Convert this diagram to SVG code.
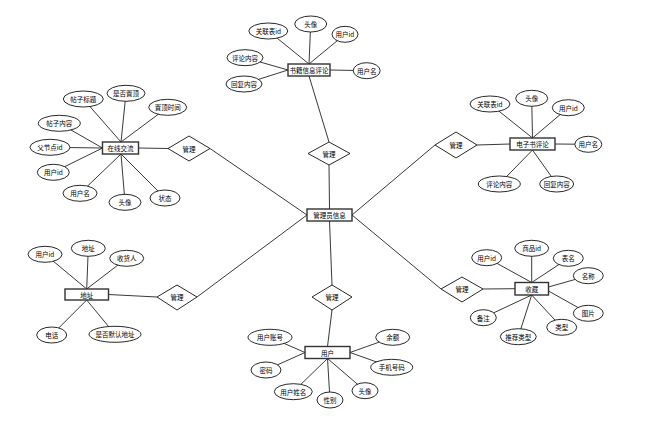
<svg xmlns="http://www.w3.org/2000/svg" width="667" height="425" viewBox="0 0 667 425">
<style>
.bg{fill:#fff}
.ln{stroke:#222;stroke-width:0.9;fill:none}
.el{fill:#fff;stroke:#111;stroke-width:0.9}
.en{fill:#fff;stroke:#333;stroke-width:1.4}
.dm{fill:#fff;stroke:#111;stroke-width:0.9}
text{font-family:"Noto Sans CJK SC","Noto Sans",sans-serif;font-size:6.5px;fill:#000;text-anchor:middle;dominant-baseline:central}
</style>
<rect class="bg" x="0" y="0" width="667" height="425"/>
<g id="connectors">
<line class="ln" x1="329.5" y1="209" x2="329" y2="165"/>
<line class="ln" x1="307" y1="215" x2="210" y2="148.5"/>
<line class="ln" x1="307" y1="215" x2="197" y2="297"/>
<line class="ln" x1="329.5" y1="221" x2="332" y2="285"/>
<line class="ln" x1="352" y1="215" x2="435" y2="145"/>
<line class="ln" x1="352" y1="215" x2="441" y2="289"/>
<line class="ln" x1="329" y1="142" x2="309" y2="76"/>
<line class="ln" x1="168" y1="148.5" x2="138.5" y2="148"/>
<line class="ln" x1="157" y1="297" x2="108.5" y2="294.5"/>
<line class="ln" x1="332" y1="310" x2="327.5" y2="346.5"/>
<line class="ln" x1="477" y1="145" x2="510" y2="144"/>
<line class="ln" x1="483" y1="289" x2="515" y2="288.7"/>
<line class="ln" x1="309" y1="64" x2="268.3" y2="31"/>
<line class="ln" x1="309" y1="64" x2="310.7" y2="24"/>
<line class="ln" x1="309" y1="64" x2="345" y2="34.3"/>
<line class="ln" x1="288" y1="70" x2="245" y2="57.7"/>
<line class="ln" x1="288" y1="70" x2="244" y2="84"/>
<line class="ln" x1="330" y1="70" x2="366.7" y2="70.7"/>
<line class="ln" x1="121" y1="142" x2="83.3" y2="99"/>
<line class="ln" x1="121" y1="142" x2="126" y2="93.3"/>
<line class="ln" x1="121" y1="142" x2="167.7" y2="107.3"/>
<line class="ln" x1="102.5" y1="148" x2="59.3" y2="123.3"/>
<line class="ln" x1="102.5" y1="148" x2="50" y2="147.3"/>
<line class="ln" x1="102.5" y1="148" x2="53.3" y2="172.3"/>
<line class="ln" x1="121" y1="154" x2="80" y2="193.3"/>
<line class="ln" x1="121" y1="154" x2="125" y2="202.3"/>
<line class="ln" x1="121" y1="154" x2="165" y2="198"/>
<line class="ln" x1="532.5" y1="138" x2="490" y2="104"/>
<line class="ln" x1="532.5" y1="138" x2="531.7" y2="98.3"/>
<line class="ln" x1="532.5" y1="138" x2="568.3" y2="107.7"/>
<line class="ln" x1="555" y1="144" x2="588.3" y2="144.3"/>
<line class="ln" x1="532.5" y1="150" x2="499.3" y2="184"/>
<line class="ln" x1="532.5" y1="150" x2="556.7" y2="184"/>
<line class="ln" x1="86.7" y1="289" x2="45" y2="254.3"/>
<line class="ln" x1="86.7" y1="289" x2="88.3" y2="248.3"/>
<line class="ln" x1="86.7" y1="289" x2="126.7" y2="258.3"/>
<line class="ln" x1="86.7" y1="300" x2="51.7" y2="335"/>
<line class="ln" x1="86.7" y1="300" x2="115" y2="334.3"/>
<line class="ln" x1="531.7" y1="282.5" x2="486.7" y2="257.7"/>
<line class="ln" x1="531.7" y1="282.5" x2="531.7" y2="248.3"/>
<line class="ln" x1="531.7" y1="282.5" x2="568.3" y2="258.3"/>
<line class="ln" x1="548.5" y1="287" x2="588.3" y2="275.7"/>
<line class="ln" x1="548.5" y1="291" x2="588.3" y2="313.3"/>
<line class="ln" x1="531.7" y1="295" x2="561.7" y2="327.3"/>
<line class="ln" x1="531.7" y1="295" x2="518.3" y2="336.7"/>
<line class="ln" x1="531.7" y1="295" x2="483.3" y2="317.7"/>
<line class="ln" x1="305" y1="352.5" x2="270" y2="337.3"/>
<line class="ln" x1="305" y1="352.5" x2="266" y2="370"/>
<line class="ln" x1="327.5" y1="358.5" x2="293.3" y2="391.7"/>
<line class="ln" x1="327.5" y1="358.5" x2="330" y2="400"/>
<line class="ln" x1="327.5" y1="358.5" x2="365" y2="390.7"/>
<line class="ln" x1="350" y1="352.5" x2="391.7" y2="367.3"/>
<line class="ln" x1="350" y1="352.5" x2="392.7" y2="337.3"/>
</g>

<g id="rel-top"><polygon class="dm" points="329,142 350,153.5 329,165 308,153.5"/><text x="329" y="153.5">管理</text></g>
<g id="rel-left-top"><polygon class="dm" points="189,136 210,148.5 189,161 168,148.5"/><text x="189" y="148.5">管理</text></g>
<g id="rel-left-bottom"><polygon class="dm" points="177,285 197,297 177,310 157,297"/><text x="177" y="297">管理</text></g>
<g id="rel-bottom"><polygon class="dm" points="332,285 352,297 332,310 312,297"/><text x="332" y="297">管理</text></g>
<g id="rel-right-top"><polygon class="dm" points="456,132 477,145 456,158 435,145"/><text x="456" y="145">管理</text></g>
<g id="rel-right-bottom"><polygon class="dm" points="462,277 483,289 462,302 441,289"/><text x="462" y="289">管理</text></g>

<g id="admin"><rect class="en" x="307" y="209" width="45" height="12"/><text x="329.5" y="215">管理员信息</text></g>

<g id="book-comment"><rect class="en" x="288" y="64" width="42" height="12"/><text x="309" y="70">书籍信息评论</text></g>
<g id="bc-a1"><ellipse class="el" cx="268.3" cy="31" rx="19.5" ry="8"/><text x="268.3" y="31">关联表id</text></g>
<g id="bc-a2"><ellipse class="el" cx="310.7" cy="24" rx="16" ry="8"/><text x="310.7" y="24">头像</text></g>
<g id="bc-a3"><ellipse class="el" cx="345" cy="34.3" rx="13" ry="8"/><text x="345" y="34.3">用户id</text></g>
<g id="bc-a4"><ellipse class="el" cx="245" cy="57.7" rx="18" ry="8"/><text x="245" y="57.7">评论内容</text></g>
<g id="bc-a5"><ellipse class="el" cx="244" cy="84" rx="18" ry="8"/><text x="244" y="84">回复内容</text></g>
<g id="bc-a6"><ellipse class="el" cx="366.7" cy="70.7" rx="13.5" ry="8"/><text x="366.7" y="70.7">用户名</text></g>

<g id="forum"><rect class="en" x="102.5" y="142" width="36" height="12"/><text x="120.5" y="148">在线交流</text></g>
<g id="f-a1"><ellipse class="el" cx="83.3" cy="99" rx="20" ry="8"/><text x="83.3" y="99">帖子标题</text></g>
<g id="f-a2"><ellipse class="el" cx="126" cy="93.3" rx="19" ry="8"/><text x="126" y="93.3">是否置顶</text></g>
<g id="f-a3"><ellipse class="el" cx="167.7" cy="107.3" rx="19" ry="8"/><text x="167.7" y="107.3">置顶时间</text></g>
<g id="f-a4"><ellipse class="el" cx="59.3" cy="123.3" rx="21" ry="8"/><text x="59.3" y="123.3">帖子内容</text></g>
<g id="f-a5"><ellipse class="el" cx="50" cy="147.3" rx="20" ry="8"/><text x="50" y="147.3">父节点id</text></g>
<g id="f-a6"><ellipse class="el" cx="53.3" cy="172.3" rx="16" ry="8"/><text x="53.3" y="172.3">用户id</text></g>
<g id="f-a7"><ellipse class="el" cx="80" cy="193.3" rx="17" ry="8"/><text x="80" y="193.3">用户名</text></g>
<g id="f-a8"><ellipse class="el" cx="125" cy="202.3" rx="16" ry="8"/><text x="125" y="202.3">头像</text></g>
<g id="f-a9"><ellipse class="el" cx="165" cy="198" rx="15" ry="8"/><text x="165" y="198">状态</text></g>

<g id="ebook-comment"><rect class="en" x="510" y="138" width="45" height="12"/><text x="532.5" y="144">电子书评论</text></g>
<g id="ec-a1"><ellipse class="el" cx="490" cy="104" rx="20" ry="8"/><text x="490" y="104">关联表id</text></g>
<g id="ec-a2"><ellipse class="el" cx="531.7" cy="98.3" rx="16" ry="8"/><text x="531.7" y="98.3">头像</text></g>
<g id="ec-a3"><ellipse class="el" cx="568.3" cy="107.7" rx="16" ry="8"/><text x="568.3" y="107.7">用户id</text></g>
<g id="ec-a4"><ellipse class="el" cx="588.3" cy="144.3" rx="13.5" ry="8"/><text x="588.3" y="144.3">用户名</text></g>
<g id="ec-a5"><ellipse class="el" cx="499.3" cy="184" rx="21" ry="8"/><text x="499.3" y="184">评论内容</text></g>
<g id="ec-a6"><ellipse class="el" cx="556.7" cy="184" rx="17" ry="8"/><text x="556.7" y="184">回复内容</text></g>

<g id="address"><rect class="en" x="65" y="289" width="43.5" height="11"/><text x="86.7" y="294.5">地址</text></g>
<g id="ad-a1"><ellipse class="el" cx="45" cy="254.3" rx="17" ry="8"/><text x="45" y="254.3">用户id</text></g>
<g id="ad-a2"><ellipse class="el" cx="88.3" cy="248.3" rx="17" ry="8"/><text x="88.3" y="248.3">地址</text></g>
<g id="ad-a3"><ellipse class="el" cx="126.7" cy="258.3" rx="17" ry="8"/><text x="126.7" y="258.3">收货人</text></g>
<g id="ad-a4"><ellipse class="el" cx="51.7" cy="335" rx="15" ry="8"/><text x="51.7" y="335">电话</text></g>
<g id="ad-a5"><ellipse class="el" cx="115" cy="334.3" rx="26" ry="8"/><text x="115" y="334.3">是否默认地址</text></g>

<g id="favorite"><rect class="en" x="515" y="282.5" width="33.5" height="12.5"/><text x="531.7" y="288.7">收藏</text></g>
<g id="fv-a1"><ellipse class="el" cx="486.7" cy="257.7" rx="15" ry="8"/><text x="486.7" y="257.7">用户id</text></g>
<g id="fv-a2"><ellipse class="el" cx="531.7" cy="248.3" rx="17" ry="8"/><text x="531.7" y="248.3">商品id</text></g>
<g id="fv-a3"><ellipse class="el" cx="568.3" cy="258.3" rx="15" ry="8"/><text x="568.3" y="258.3">表名</text></g>
<g id="fv-a4"><ellipse class="el" cx="588.3" cy="275.7" rx="15" ry="8"/><text x="588.3" y="275.7">名称</text></g>
<g id="fv-a5"><ellipse class="el" cx="588.3" cy="313.3" rx="15" ry="8"/><text x="588.3" y="313.3">图片</text></g>
<g id="fv-a6"><ellipse class="el" cx="561.7" cy="327.3" rx="15" ry="8"/><text x="561.7" y="327.3">类型</text></g>
<g id="fv-a7"><ellipse class="el" cx="518.3" cy="336.7" rx="18" ry="8"/><text x="518.3" y="336.7">推荐类型</text></g>
<g id="fv-a8"><ellipse class="el" cx="483.3" cy="317.7" rx="13" ry="8"/><text x="483.3" y="317.7">备注</text></g>

<g id="user"><rect class="en" x="305" y="346.5" width="45" height="12"/><text x="327.5" y="352.5">用户</text></g>
<g id="u-a1"><ellipse class="el" cx="270" cy="337.3" rx="22" ry="8"/><text x="270" y="337.3">用户账号</text></g>
<g id="u-a2"><ellipse class="el" cx="266" cy="370" rx="15" ry="8"/><text x="266" y="370">密码</text></g>
<g id="u-a3"><ellipse class="el" cx="293.3" cy="391.7" rx="19" ry="8"/><text x="293.3" y="391.7">用户姓名</text></g>
<g id="u-a4"><ellipse class="el" cx="330" cy="400" rx="13" ry="8"/><text x="330" y="400">性别</text></g>
<g id="u-a5"><ellipse class="el" cx="365" cy="390.7" rx="13" ry="8"/><text x="365" y="390.7">头像</text></g>
<g id="u-a6"><ellipse class="el" cx="391.7" cy="367.3" rx="21" ry="8"/><text x="391.7" y="367.3">手机号码</text></g>
<g id="u-a7"><ellipse class="el" cx="392.7" cy="337.3" rx="17" ry="8"/><text x="392.7" y="337.3">余额</text></g>
</svg>
